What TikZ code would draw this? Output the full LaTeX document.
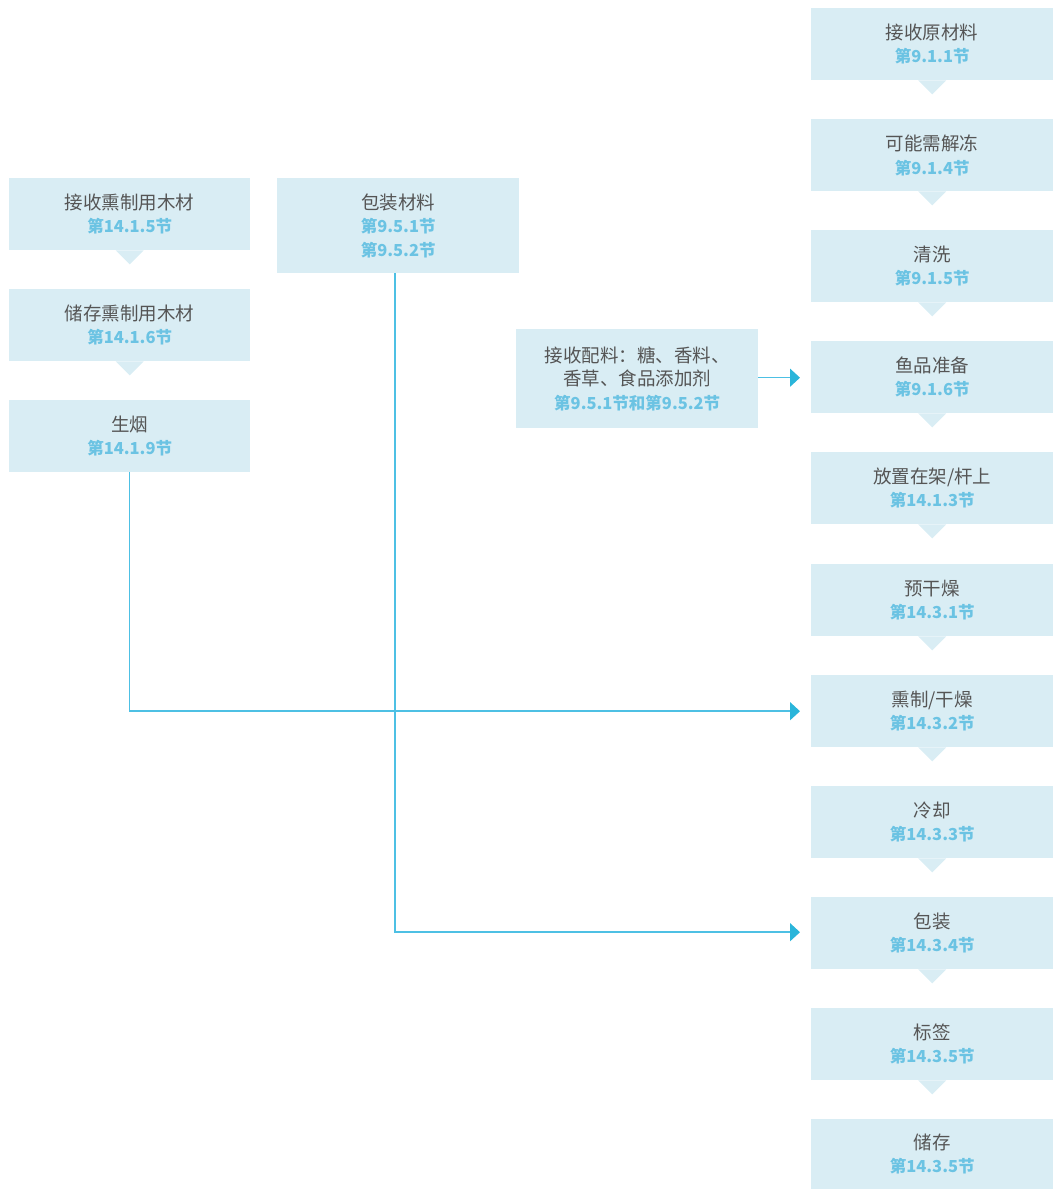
\documentclass[tikz,border=0pt]{standalone}
\usepackage{fontspec}
\setmainfont{Noto Sans CJK SC}
\usetikzlibrary{arrows.meta}
\definecolor{boxfill}{HTML}{D9EDF4}
\definecolor{txtgray}{HTML}{555555}
\definecolor{secblue}{HTML}{6BC3E3}
\definecolor{linecol}{HTML}{4DC0E4}
\definecolor{tipcol}{HTML}{2AB5DA}
\tikzset{
  x=1pt, y=-1pt,
  stepbox/.style={fill=boxfill, anchor=north west, minimum width=242pt, minimum height=72pt,
    inner sep=0pt, align=center, text=txtgray, font=\fontsize{18.5}{23.5}\selectfont},
  conn/.style={draw=linecol, line width=1.5pt, -{Triangle[length=10pt,width=18pt,color=tipcol]}},
}
\newcommand{\sect}[1]{{\color{secblue}\fontsize{16.5}{23.5}\selectfont\bfseries #1}}
\newcommand{\notch}[1]{\fill[boxfill] ([xshift=-14pt]#1.south) -- ([xshift=14pt]#1.south) -- ([yshift=-14pt]#1.south) -- cycle;}
\begin{document}
\begin{tikzpicture}
\useasboundingbox (0,0) rectangle (1059,1189);
% right column
\node[stepbox] (r1) at (811,8) {接收原材料\\\sect{第9.1.1节}};
\node[stepbox] (r2) at (811,119) {可能需解冻\\\sect{第9.1.4节}};
\node[stepbox] (r3) at (811,230) {清洗\\\sect{第9.1.5节}};
\node[stepbox] (r4) at (811,341) {鱼品准备\\\sect{第9.1.6节}};
\node[stepbox] (r5) at (811,452) {放置在架/杆上\\\sect{第14.1.3节}};
\node[stepbox] (r6) at (811,564) {预干燥\\\sect{第14.3.1节}};
\node[stepbox] (r7) at (811,675) {熏制/干燥\\\sect{第14.3.2节}};
\node[stepbox] (r8) at (811,786) {冷却\\\sect{第14.3.3节}};
\node[stepbox] (r9) at (811,897) {包装\\\sect{第14.3.4节}};
\node[stepbox] (r10) at (811,1008) {标签\\\sect{第14.3.5节}};
\node[stepbox, minimum height=70pt] (r11) at (811,1119) {储存\\\sect{第14.3.5节}};
\foreach \n in {r1,r2,r3,r4,r5,r6,r7,r8,r9,r10} {\notch{\n}}
% left column
\node[stepbox, minimum width=241pt] (w1) at (9,178) {接收熏制用木材\\\sect{第14.1.5节}};
\node[stepbox, minimum width=241pt] (w2) at (9,289) {储存熏制用木材\\\sect{第14.1.6节}};
\node[stepbox, minimum width=241pt] (smoke) at (9,400) {生烟\\\sect{第14.1.9节}};
\notch{w1}
\notch{w2}
% packaging materials
\node[stepbox, minimum height=95pt] (pack) at (277,178) {包装材料\\\sect{第9.5.1节}\\\sect{第9.5.2节}};
% ingredients
\node[stepbox, minimum height=99pt] (ingr) at (516,329) {接收配料：糖、香料、\\香草、食品添加剂\\\sect{第9.5.1节和第9.5.2节}};
% connectors
\draw[conn, shorten >=11pt] (smoke.south) |- (r7.west);
\draw[conn, shorten >=11pt] ([xshift=-3pt]pack.south) |- ([yshift=1pt]r9.west);
\draw[conn, shorten >=11pt] ([yshift=1pt]ingr.east) -- ([yshift=1pt]ingr.east -| r4.west);
\end{tikzpicture}
\end{document}
